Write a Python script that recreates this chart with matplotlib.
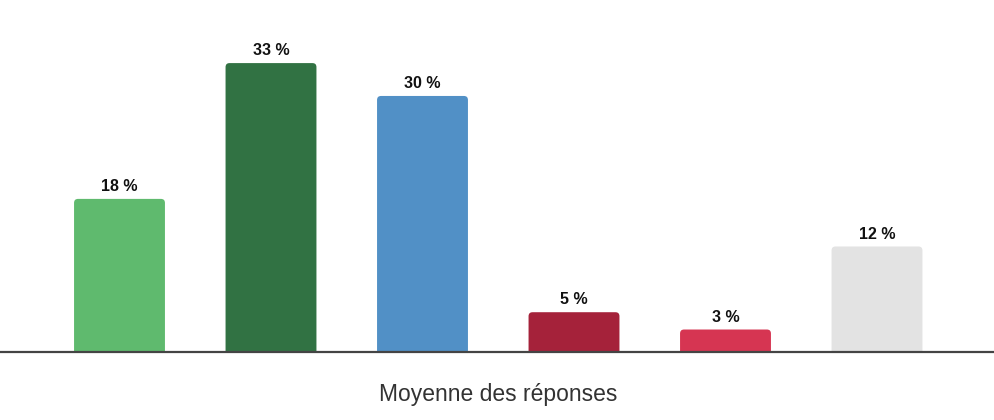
import matplotlib.pyplot as plt
from matplotlib.patches import FancyBboxPatch

# Data
categories = ['A', 'B', 'C', 'D', 'E', 'F']
values = [17.7, 33.4, 29.6, 4.6, 2.6, 12.2]
labels = ['18 %', '33 %', '30 %', '5 %', '3 %', '12 %']
colors = ['#5fba6e', '#317243', '#5190c6', '#a5223a', '#d63552', '#e3e3e3']

plt.rcParams['font.family'] = ['Liberation Sans', 'DejaVu Sans']

W, H = 994, 420
fig = plt.figure(figsize=(W / 100, H / 100), dpi=100)
ax = fig.add_axes([0, 1 - 352 / H, 1, 352 / H])

x_per_px = 1 / 151.5
y_per_px = 1 / 8.65
ax.set_xlim(-119.5 * x_per_px, (W - 119.5) * x_per_px)
ax.set_ylim(0, 352 * y_per_px)

bar_w = 0.6
for i, (v, lab, c) in enumerate(zip(values, labels, colors)):
    patch = FancyBboxPatch((i - bar_w / 2, -2), bar_w, v + 2,
                           boxstyle=f"round,pad=0,rounding_size={4 * x_per_px}",
                           mutation_aspect=y_per_px / x_per_px,
                           facecolor=c, edgecolor='none', clip_on=True)
    ax.add_patch(patch)
    ax.annotate(lab, (i, v), xytext=(0, 3.5), textcoords='offset points',
                ha='center', va='bottom', fontsize=11.5, fontweight='bold',
                color='#111111')

ax.axhline(0, color='#444444', linewidth=1.6, clip_on=False)

for s in ax.spines.values():
    s.set_visible(False)
ax.set_xticks([])
ax.set_yticks([])
ax.patch.set_alpha(0)

fig.text(498 / W, 1 - 395 / H, 'Moyenne des réponses', ha='center', va='center',
         fontsize=16.5, color='#333333')

fig.savefig('out.png', dpi=100)
